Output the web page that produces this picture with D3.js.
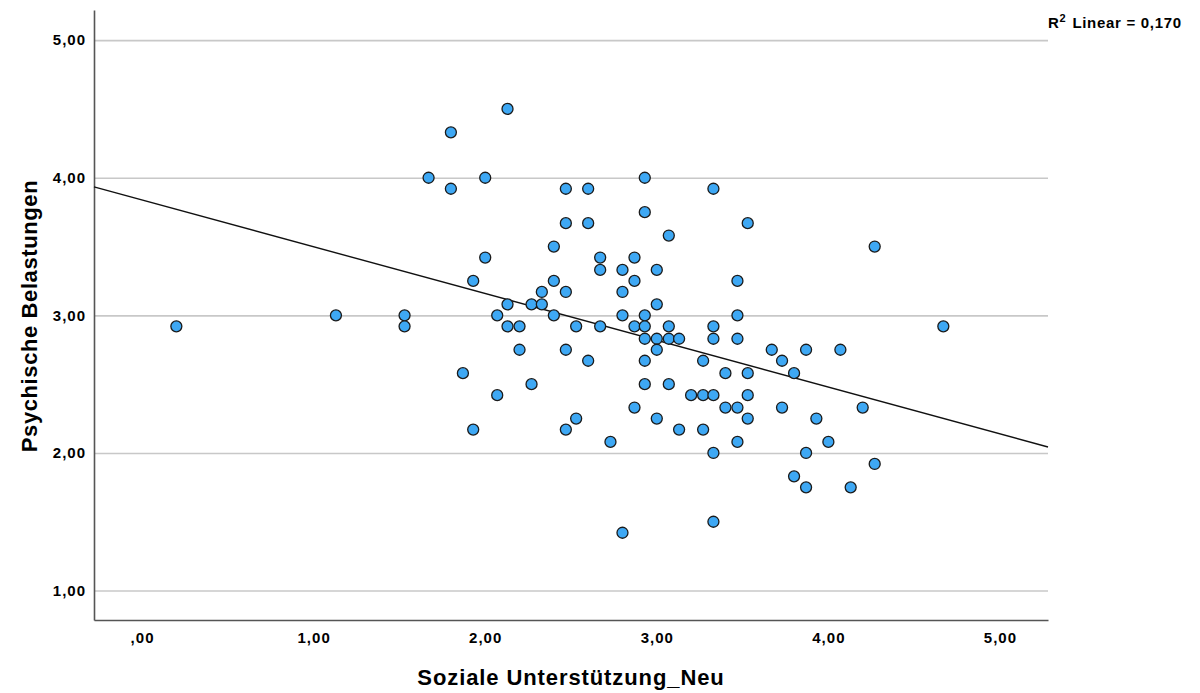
<!DOCTYPE html>
<html>
<head>
<meta charset="utf-8">
<script src="https://cdn.jsdelivr.net/npm/d3@7"></script>
<style>
  body { margin: 0; background: #fff; }
  svg text { font-family: "Liberation Sans", Arial, Helvetica, sans-serif; font-weight: bold; fill: #000; }
</style>
</head>
<body>
<svg width="1200" height="693"></svg>
<script>
// Soziale Unterstützung_Neu (x) und Psychische Belastungen (y), one entry per case
const unterstuetzung = [
  0.20, 1.13, 1.53, 1.53, 1.67, 1.80, 1.80, 1.87, 1.93, 1.93,
  2.00, 2.00, 2.07, 2.07, 2.13, 2.13, 2.13, 2.20, 2.20, 2.27,
  2.27, 2.33, 2.33, 2.40, 2.40, 2.40, 2.47, 2.47, 2.47, 2.47,
  2.47, 2.53, 2.53, 2.60, 2.60, 2.60, 2.67, 2.67, 2.67, 2.73,
  2.80, 2.80, 2.80, 2.80, 2.87, 2.87, 2.87, 2.87, 2.93, 2.93,
  2.93, 2.93, 2.93, 2.93, 2.93, 3.00, 3.00, 3.00, 3.00, 3.00,
  3.07, 3.07, 3.07, 3.07, 3.13, 3.13, 3.20, 3.27, 3.27, 3.27,
  3.33, 3.33, 3.33, 3.33, 3.33, 3.33, 3.40, 3.40, 3.47, 3.47,
  3.47, 3.47, 3.47, 3.53, 3.53, 3.53, 3.53, 3.67, 3.73, 3.73,
  3.80, 3.80, 3.87, 3.87, 3.87, 3.93, 4.00, 4.07, 4.13, 4.20,
  4.27, 4.27, 4.67
];
const belastungen = [
  2.92, 3.00, 3.00, 2.92, 4.00, 4.33, 3.92, 2.58, 3.25, 2.17,
  4.00, 3.42, 3.00, 2.42, 4.50, 3.08, 2.92, 2.92, 2.75, 3.08,
  2.50, 3.17, 3.08, 3.50, 3.25, 3.00, 3.92, 3.67, 3.17, 2.75,
  2.17, 2.92, 2.25, 3.92, 3.67, 2.67, 3.42, 3.33, 2.92, 2.08,
  3.33, 3.17, 3.00, 1.42, 3.42, 3.25, 2.92, 2.33, 4.00, 3.75,
  3.00, 2.92, 2.83, 2.67, 2.50, 3.33, 3.08, 2.83, 2.75, 2.25,
  3.58, 2.92, 2.83, 2.50, 2.83, 2.17, 2.42, 2.67, 2.42, 2.17,
  3.92, 2.92, 2.83, 2.42, 2.00, 1.50, 2.58, 2.33, 3.25, 3.00,
  2.83, 2.33, 2.08, 3.67, 2.58, 2.42, 2.25, 2.75, 2.67, 2.33,
  2.58, 1.83, 2.75, 2.00, 1.75, 2.25, 2.08, 2.75, 1.75, 2.33,
  3.50, 1.92, 2.92
];
const xTicks = [0, 1, 2, 3, 4, 5];
const yTicks = [1, 2, 3, 4, 5];
const xTitle = "Soziale Unterstützung_Neu";
const yTitle = "Psychische Belastungen";
const rSquaredLabel = "0,170";

const svg = d3.select("svg");
const plotLeft = 94, plotRight = 1048, plotTop = 10, plotBottom = 620;

const x = d3.scaleLinear().domain([-0.28, 5.28]).range([plotLeft, plotRight]);
const y = d3.scaleLinear().domain([0.786, 5.219]).range([plotBottom, plotTop]);

// SPSS style numbers: comma decimal, no leading zero
const fmt = v => d3.format(".2f")(v).replace(".", ",").replace(/^0,/, ",");

// horizontal grid
svg.append("g")
  .attr("transform", `translate(${plotLeft},0)`)
  .call(d3.axisLeft(y).tickValues(yTicks).tickSize(-(plotRight - plotLeft)).tickFormat(""))
  .call(g => g.select(".domain").remove())
  .call(g => g.selectAll("line").attr("stroke", "#c8c8c8").attr("stroke-width", 1.6));

// axes
const yAxis = svg.append("g")
  .attr("transform", `translate(${plotLeft},0)`)
  .call(d3.axisLeft(y).tickValues(yTicks).tickSize(0).tickSizeOuter(0).tickPadding(8).tickFormat(fmt));
const xAxis = svg.append("g")
  .attr("transform", `translate(0,${plotBottom})`)
  .call(d3.axisBottom(x).tickValues(xTicks).tickSize(0).tickSizeOuter(0).tickPadding(12).tickFormat(fmt));

[xAxis, yAxis].forEach(a => {
  a.select(".domain").attr("stroke", "#555").attr("stroke-width", 1.6);
  a.selectAll("text")
    .style("font-size", "15px")
    .style("letter-spacing", "1px")
    .attr("fill", "#000");
});

// least squares fit from the points
const mx = d3.mean(unterstuetzung), my = d3.mean(belastungen);
let sxy = 0, sxx = 0;
unterstuetzung.forEach((v, i) => { sxy += (v - mx) * (belastungen[i] - my); sxx += (v - mx) * (v - mx); });
const slope = sxy / sxx;
const intercept = my - slope * mx;
const dom = x.domain();

svg.append("line")
  .attr("x1", x(dom[0])).attr("y1", y(intercept + slope * dom[0]))
  .attr("x2", x(dom[1])).attr("y2", y(intercept + slope * dom[1]))
  .attr("stroke", "#111").attr("stroke-width", 1.4);

// points
svg.append("g")
  .selectAll("circle")
  .data(unterstuetzung.map((v, i) => [v, belastungen[i]]))
  .join("circle")
  .attr("cx", d => x(d[0]))
  .attr("cy", d => y(d[1]))
  .attr("r", 5.5)
  .attr("fill", "#3ea8f4")
  .attr("stroke", "#1b1b1b")
  .attr("stroke-width", 1.3);

// titles
svg.append("text")
  .attr("x", 571).attr("y", 685)
  .attr("text-anchor", "middle")
  .style("font-size", "22px")
  .style("letter-spacing", "0.9px")
  .text(xTitle);

svg.append("text")
  .attr("transform", "translate(37,316) rotate(-90)")
  .attr("text-anchor", "middle")
  .style("font-size", "22px")
  .style("letter-spacing", "0.6px")
  .text(yTitle);

// R² label
const r2 = svg.append("text")
  .attr("x", 1048).attr("y", 28)
  .style("font-size", "15px")
  .style("letter-spacing", "0.7px");
r2.append("tspan").text("R");
r2.append("tspan").attr("dy", -6).style("font-size", "11px").text("2");
r2.append("tspan").attr("dy", 6).attr("dx", 6).text("Linear = " + rSquaredLabel);
</script>
</body>
</html>
